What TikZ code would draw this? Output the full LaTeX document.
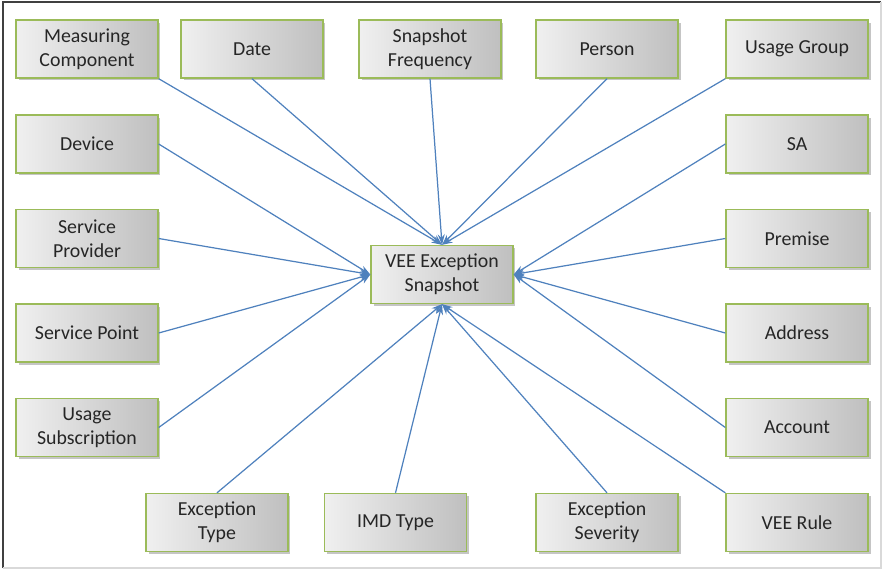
\documentclass[tikz,border=0pt]{standalone}
\usepackage{fontspec}
\setmainfont{Carlito}
\usetikzlibrary{shadows,arrows.meta}
\definecolor{boxgreen}{HTML}{9BBB59}
\definecolor{arrowblue}{HTML}{4F81BD}
\begin{document}
\begin{tikzpicture}[x=0.02cm, y=-0.02cm]
    % Styles
    \tikzstyle{entity} = [rectangle, minimum width=2.84cm, minimum height=1.16cm, text centered, align=center, draw=boxgreen, line width=0.8pt, left color=gray!12, right color=gray!50, drop shadow={shadow xshift=0.05cm, shadow yshift=-0.05cm, fill=black!45}, font=\fontsize{11.3}{13.8}\selectfont, text=black!85]
    \tikzstyle{arrow} = [arrowblue, line width=0.7pt, -{Stealth[length=6pt, width=4pt]}]

    \useasboundingbox (0,0) rectangle (884,571);
    % Cadre
    \draw [black!75, line width=1.2pt] (3,568) -- (3,2) -- (881,2);
    \draw [black!15, line width=1pt] (881,2) -- (881,568) -- (3,568);

    % Centre
    \node (snapshot) [entity] at (442,274.5) {VEE Exception\\Snapshot};

    % Ligne du haut
    \node (measuring) [entity] at (87,49) {Measuring\\Component};
    \node (date) [entity] at (252,49) {Date};
    \node (frequency) [entity] at (430,49) {Snapshot\\Frequency};
    \node (person) [entity] at (607,49) {Person};
    \node (usagegroup) [entity] at (797,49) {Usage Group};

    % Colonne gauche
    \node (device) [entity] at (87,144) {Device};
    \node (provider) [entity] at (87,238.5) {Service\\Provider};
    \node (point) [entity] at (87,333) {Service Point};
    \node (subscription) [entity] at (87,427.5) {Usage\\Subscription};

    % Colonne droite
    \node (sa) [entity] at (797,144) {SA};
    \node (premise) [entity] at (797,238.5) {Premise};
    \node (address) [entity] at (797,333) {Address};
    \node (account) [entity] at (797,427.5) {Account};

    % Ligne du bas
    \node (exctype) [entity] at (217,522.5) {Exception\\Type};
    \node (imdtype) [entity] at (395.5,522.5) {IMD Type};
    \node (severity) [entity] at (607,522.5) {Exception\\Severity};
    \node (veerule) [entity] at (797,522.5) {VEE Rule};

    % Flèches
    \draw [arrow] (measuring.south east) -- (snapshot.north);
    \draw [arrow] (date.south) -- (snapshot.north);
    \draw [arrow] (frequency.south) -- (snapshot.north);
    \draw [arrow] (person.south) -- (snapshot.north);
    \draw [arrow] (usagegroup.south west) -- (snapshot.north);
    \draw [arrow] (device.east) -- (snapshot.west);
    \draw [arrow] (provider.east) -- (snapshot.west);
    \draw [arrow] (point.east) -- (snapshot.west);
    \draw [arrow] (subscription.east) -- (snapshot.west);
    \draw [arrow] (sa.west) -- (snapshot.east);
    \draw [arrow] (premise.west) -- (snapshot.east);
    \draw [arrow] (address.west) -- (snapshot.east);
    \draw [arrow] (account.west) -- (snapshot.east);
    \draw [arrow] (exctype.north) -- (snapshot.south);
    \draw [arrow] (imdtype.north) -- (snapshot.south);
    \draw [arrow] (severity.north) -- (snapshot.south);
    \draw [arrow] (veerule.north west) -- (snapshot.south);
\end{tikzpicture}
\end{document}
